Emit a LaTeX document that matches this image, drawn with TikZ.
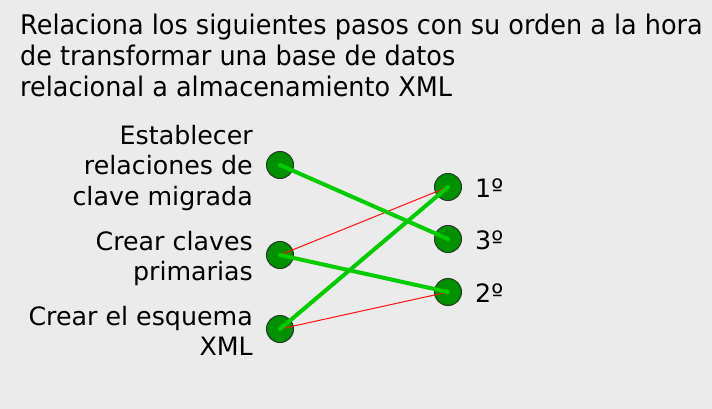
\documentclass[tikz,border=0pt]{standalone}
\usepackage{fontspec}
\setmainfont{DejaVu Sans}
\newfontfamily\titlefont[FakeStretch=0.945]{DejaVu Sans}
\definecolor{bg}{HTML}{EBEBEB}
\definecolor{dotfill}{HTML}{009000}
\definecolor{dotline}{HTML}{1F3A1F}
\definecolor{okline}{HTML}{00CC00}
\definecolor{badline}{HTML}{FF1010}
\tikzset{
  dot/.style={circle, draw=dotline, line width=1pt, fill=dotfill, minimum size=27pt, inner sep=0pt},
  lbl/.style={inner sep=0pt, font=\fontsize{25.3}{30}\selectfont, text=black},
  lblleft/.style={lbl, anchor=base east},
  lblright/.style={lbl, anchor=base west},
  ttl/.style={inner sep=0pt, anchor=base west, font=\titlefont\fontsize{27}{31}\selectfont},
  good/.style={okline, line width=4pt, line cap=round},
  bad/.style={badline, line width=1pt}
}
\begin{document}
\begin{tikzpicture}[x=1pt,y=-1pt]
\fill[bg] (0,0) rectangle (712,409);
\useasboundingbox (0,0) rectangle (712,409);
% title
\node[ttl] (t1) at (20,35) {Relaciona los siguientes pasos con su orden a la hora};
\node[ttl] (t2) at (20,66) {de transformar una base de datos};
\node[ttl] (t3) at (20,97) {relacional a almacenamiento XML};
% left labels
\node[lblleft] (a1) at (253,145) {Establecer};
\node[lblleft] (a2) at (253,175) {relaciones de};
\node[lblleft] (a3) at (253,205) {clave migrada};
\node[lblleft] (b1) at (253,250) {Crear claves};
\node[lblleft] (b2) at (253,280) {primarias};
\node[lblleft] (c1) at (253,325) {Crear el esquema};
\node[lblleft] (c2) at (253,355) {XML};
% right labels
\node[lblright] (n1) at (475,197) {1º};
\node[lblright] (n3) at (475,249) {3º};
\node[lblright] (n2) at (475,302) {2º};
% dots
\node[dot] (l1) at (280,165) {};
\node[dot] (l2) at (280,255) {};
\node[dot] (l3) at (280,329) {};
\node[dot] (r1) at (448,187) {};
\node[dot] (r3) at (448,239) {};
\node[dot] (r2) at (448,292) {};
% connectors
\draw[bad] (l2.center) -- (r1.center);
\draw[bad] (l3.center) -- (r2.center);
\draw[good] (l1.center) -- (r3.center);
\draw[good] (l2.center) -- (r2.center);
\draw[good] (l3.center) -- (r1.center);
\end{tikzpicture}
\end{document}
